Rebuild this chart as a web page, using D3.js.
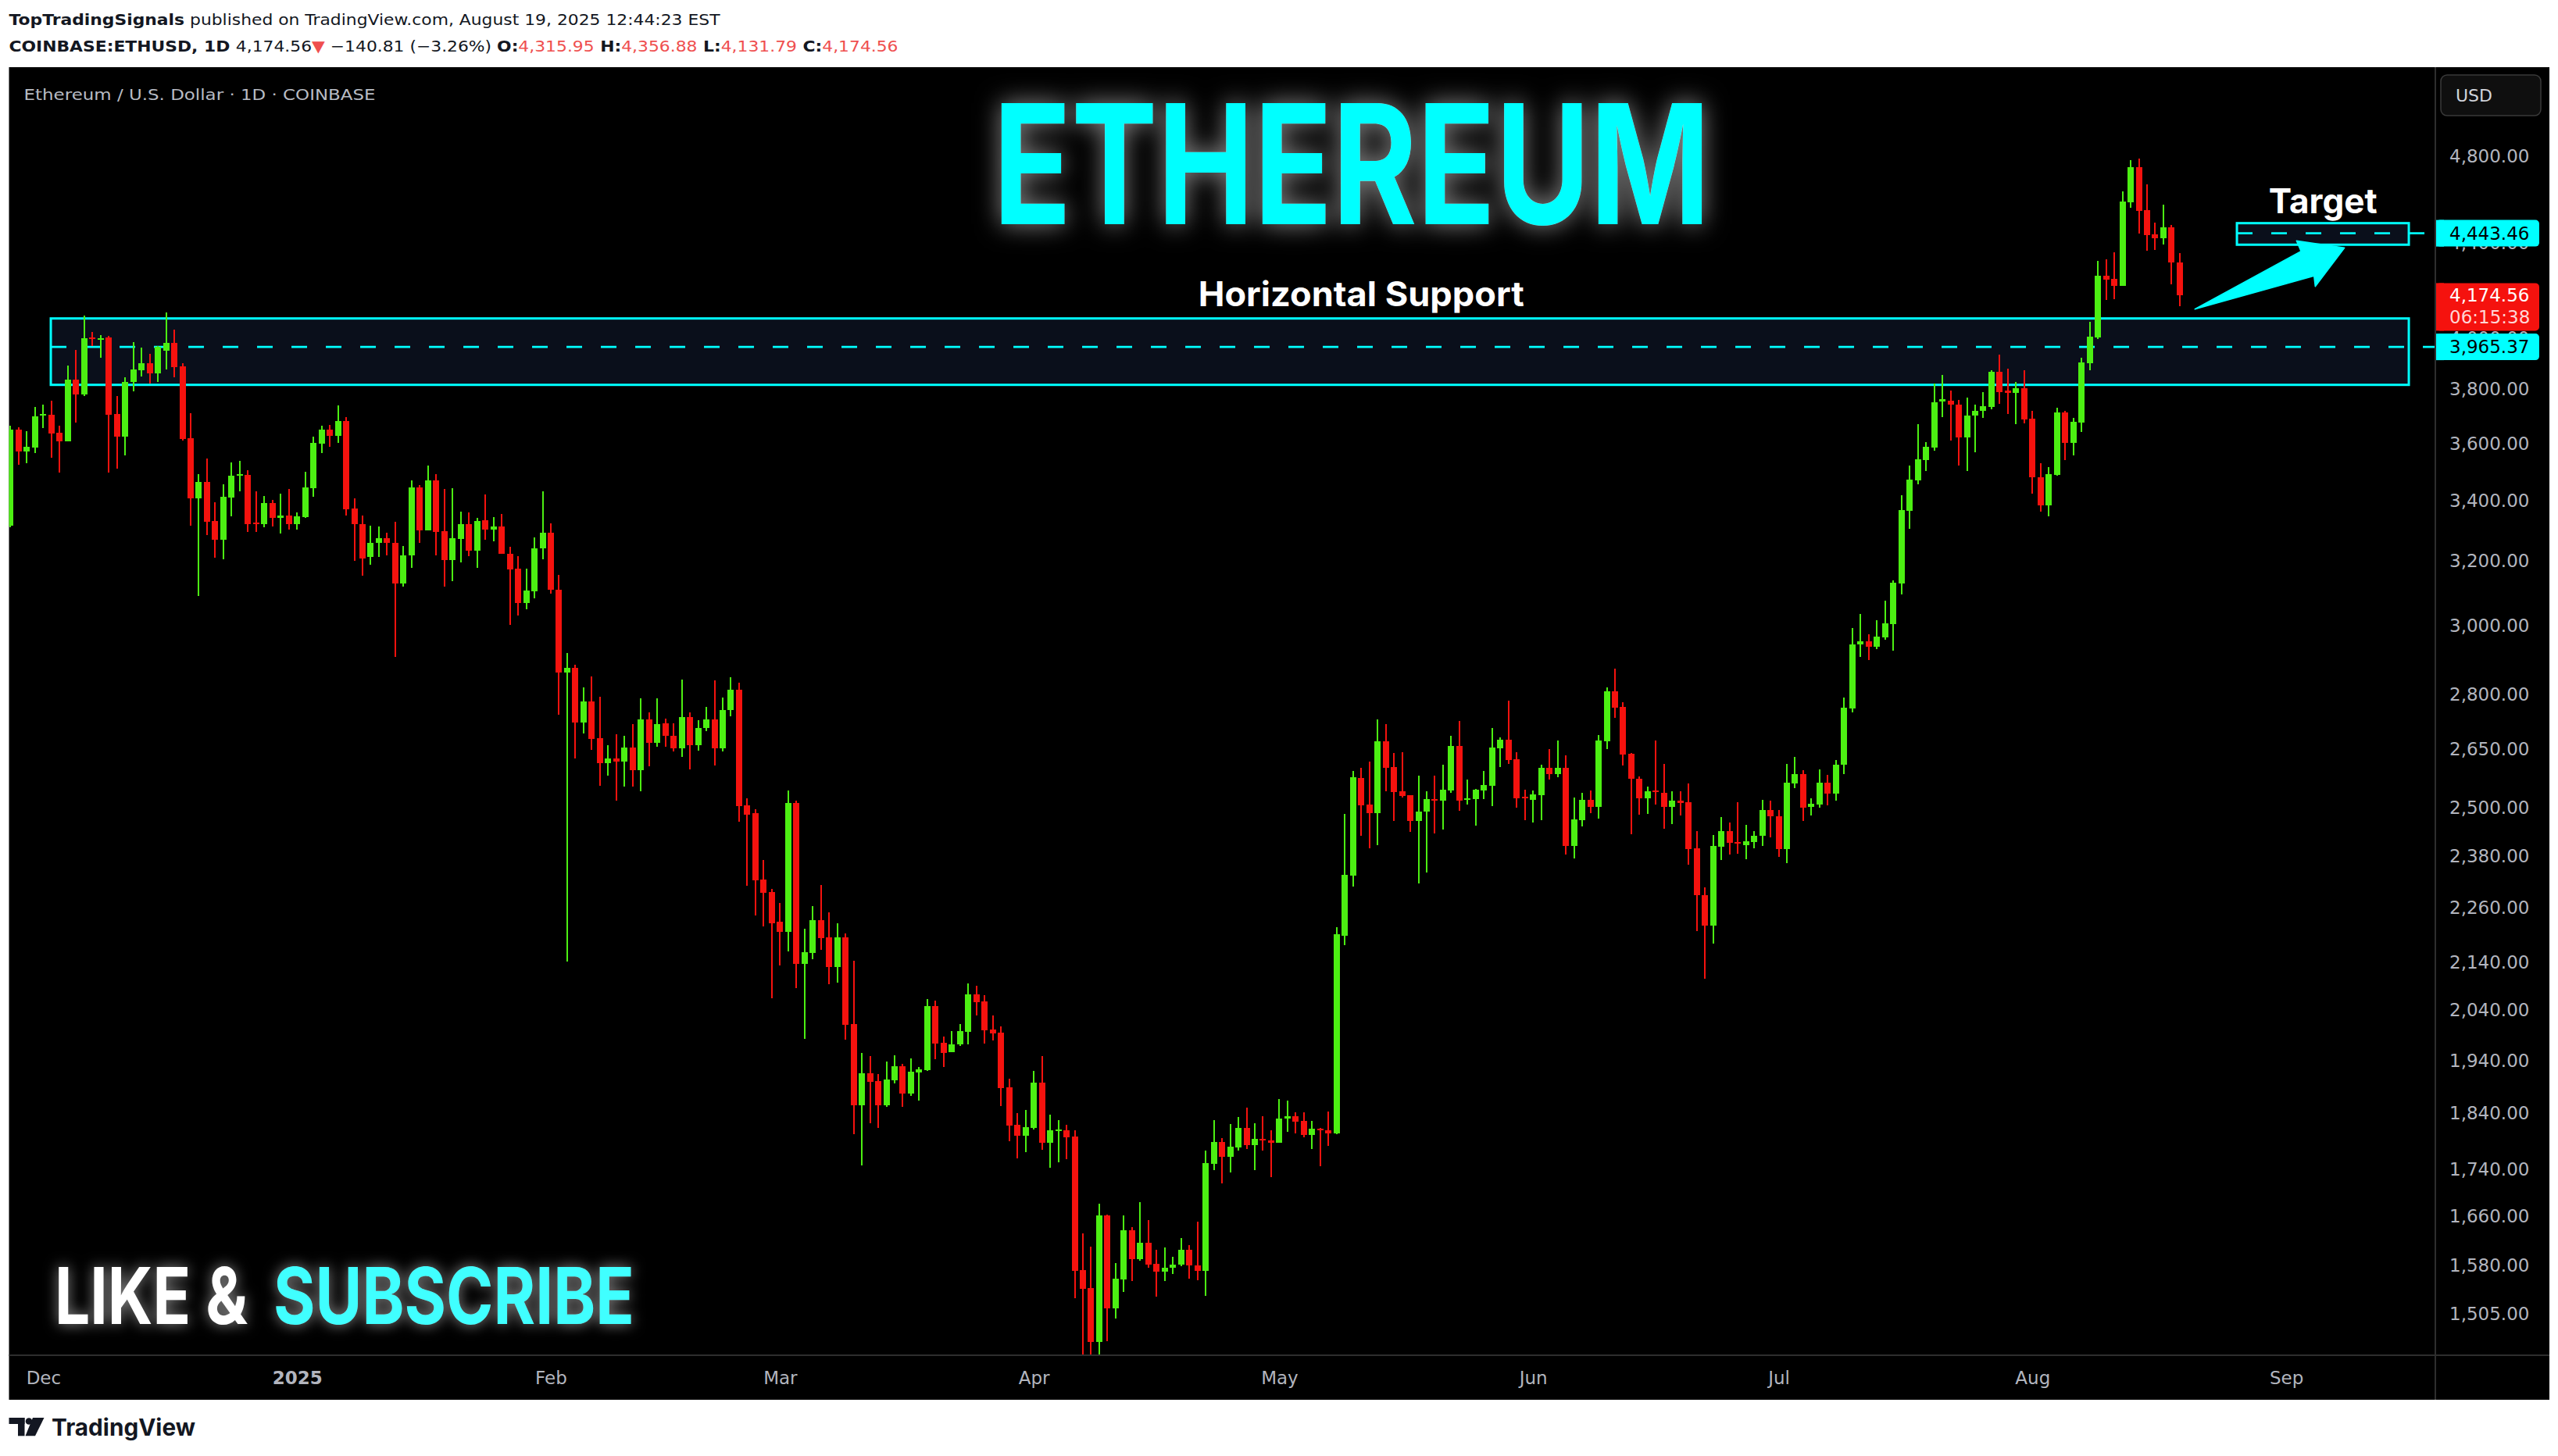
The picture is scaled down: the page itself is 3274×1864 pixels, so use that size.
<!DOCTYPE html>
<html><head><meta charset="utf-8">
<script src="https://cdn.jsdelivr.net/npm/d3@7"></script>
<style>html,body{margin:0;padding:0;background:#fff}svg{display:block}</style>
</head><body>
<svg id="c" width="3274" height="1864"></svg>
<script>
// ---------------- DATA ----------------
const startDate = "2024-11-27";   // first daily bar, COINBASE:ETHUSD 1D
const opens = [3316,3650,3572,3586,3703,3705,3639,3608,3838,3782,4003,3993,4003,3708,3623,3827,3875,3901,3863,3951,3981,3889,3619,3406,3464,3331,3270,3411,3486,3488,3326,3319,3391,3342,3349,3321,3345,3443,3600,3650,3628,3682,3373,3321,3212,3258,3275,3259,3128,3217,3445,3299,3469,3298,3203,3272,3321,3233,3333,3301,3312,3223,3176,3067,3105,3240,3292,3110,2861,2875,2722,2780,2680,2613,2626,2617,2655,2594,2730,2668,2720,2685,2653,2737,2661,2707,2730,2653,2756,2813,2505,2486,2326,2297,2229,2207,2511,2137,2161,2233,2195,2131,2195,2013,1855,1915,1901,1855,1902,1929,1877,1917,1922,2049,1975,1956,1972,1996,2073,2059,2001,1995,1889,1819,1799,1813,1898,1786,1808,1809,1798,1573,1545,1464,1661,1513,1558,1637,1590,1616,1582,1570,1576,1581,1605,1580,1571,1749,1788,1762,1778,1814,1783,1794,1791,1786,1831,1835,1826,1800,1812,1809,1804,2198,2335,2575,2507,2486,2671,2603,2541,2531,2466,2490,2521,2516,2543,2659,2518,2521,2543,2555,2653,2675,2624,2527,2519,2531,2601,2585,2601,2405,2469,2519,2502,2672,2808,2765,2637,2573,2523,2543,2537,2502,2517,2513,2400,2290,2220,2404,2441,2415,2408,2415,2429,2494,2478,2397,2561,2585,2501,2507,2563,2534,2609,2761,2943,2953,2936,2964,3005,3129,3365,3468,3540,3585,3754,3757,3743,3621,3701,3718,3733,3868,3796,3788,3805,3691,3480,3383,3487,3713,3602,3676,3901,4004,4259,4245,4216,4584,4747,4548,4438,4420,4471,4315.95];
const highs = [3665,3658,3644,3734,3743,3757,3664,3892,3953,4092,4025,4013,4010,3775,3847,3984,3963,3938,3969,4105,4035,3901,3711,3491,3546,3394,3456,3532,3538,3505,3431,3415,3402,3423,3439,3360,3499,3625,3664,3667,3740,3696,3407,3349,3315,3312,3292,3328,3248,3469,3453,3522,3491,3439,3442,3363,3359,3342,3420,3344,3354,3246,3216,3176,3277,3432,3323,3156,2918,2884,2819,2850,2793,2661,2690,2686,2718,2789,2750,2788,2733,2720,2842,2750,2728,2765,2839,2790,2848,2832,2523,2495,2372,2304,2271,2542,2517,2214,2265,2313,2250,2226,2203,2144,1955,1949,1914,1938,1950,1933,1944,1928,2064,2060,1987,1998,2013,2096,2091,2071,2029,2008,1905,1841,1846,1920,1949,1838,1828,1819,1809,1632,1610,1681,1663,1584,1661,1642,1684,1653,1605,1609,1594,1624,1612,1651,1772,1828,1795,1821,1834,1851,1822,1835,1809,1867,1864,1842,1842,1826,1814,1844,2217,2484,2593,2601,2617,2730,2718,2640,2642,2531,2581,2541,2581,2609,2686,2726,2571,2547,2593,2707,2682,2782,2642,2545,2543,2609,2650,2673,2634,2525,2537,2543,2688,2819,2873,2778,2640,2578,2553,2673,2611,2541,2541,2561,2441,2308,2432,2476,2463,2513,2456,2441,2519,2517,2494,2611,2630,2595,2523,2597,2583,2622,2790,2993,3035,2974,3016,3075,3139,3418,3521,3671,3605,3821,3855,3796,3760,3769,3743,3790,3875,3935,3880,3829,3873,3720,3529,3516,3732,3718,3693,3923,4066,4323,4329,4360,4634,4781,4788,4668,4491,4573,4481,4356.88];
const lows = [3310,3524,3530,3564,3656,3550,3497,3608,3677,3776,3970,3921,3495,3511,3558,3794,3848,3821,3827,3878,3845,3611,3316,3089,3285,3211,3206,3347,3432,3295,3295,3311,3313,3288,3303,3303,3342,3413,3566,3589,3603,3350,3201,3152,3189,3212,3217,2907,3118,3179,3258,3299,3219,3120,3135,3195,3215,3177,3270,3263,3222,3002,3031,3048,3083,3206,3096,2744,2143,2626,2692,2649,2555,2581,2516,2553,2553,2541,2606,2657,2657,2645,2630,2598,2647,2699,2608,2645,2738,2465,2311,2244,2219,2065,2134,2164,2086,1982,2147,2168,2094,2098,1981,1802,1747,1822,1813,1852,1896,1852,1872,1864,1920,1942,1928,1956,1969,1971,2029,1973,1980,1854,1790,1759,1770,1811,1774,1743,1752,1757,1529,1412,1420,1385,1465,1498,1538,1555,1588,1576,1531,1555,1567,1579,1559,1557,1532,1739,1716,1734,1773,1776,1738,1773,1726,1786,1807,1803,1796,1775,1745,1781,1802,2177,2310,2429,2400,2408,2541,2466,2524,2440,2316,2343,2436,2446,2537,2492,2508,2455,2520,2504,2604,2612,2500,2469,2463,2469,2570,2577,2385,2376,2452,2486,2473,2651,2735,2608,2433,2482,2484,2508,2448,2459,2479,2361,2209,2106,2182,2371,2384,2387,2374,2400,2406,2427,2380,2365,2549,2466,2480,2499,2506,2516,2584,2749,2907,2898,2929,2957,2925,3095,3306,3456,3502,3574,3696,3610,3521,3502,3568,3693,3725,3745,3708,3671,3674,3423,3363,3346,3484,3540,3558,3641,3873,3998,4157,4159,4216,4559,4442,4366,4370,4394,4222,4131.79];
const closes = [3650,3572,3588,3699,3708,3637,3608,3838,3782,4000,3998,3999,3706,3623,3829,3877,3901,3863,3965,3981,3887,3617,3406,3464,3329,3270,3413,3485,3491,3321,3321,3391,3342,3349,3321,3346,3445,3602,3650,3628,3682,3371,3319,3209,3259,3275,3258,3128,3218,3445,3299,3469,3295,3202,3275,3321,3233,3331,3301,3312,3224,3173,3067,3107,3241,3292,3108,2861,2875,2722,2780,2678,2613,2626,2617,2655,2594,2730,2668,2718,2685,2653,2737,2661,2707,2730,2653,2756,2813,2504,2482,2324,2295,2226,2207,2511,2137,2163,2233,2193,2131,2195,2011,1855,1915,1899,1855,1904,1929,1877,1919,1923,2049,1973,1955,1972,1998,2073,2057,2000,1994,1887,1817,1799,1815,1898,1786,1809,1811,1797,1572,1544,1464,1661,1513,1559,1637,1590,1616,1581,1570,1576,1581,1605,1580,1571,1750,1788,1762,1779,1814,1783,1793,1791,1786,1831,1835,1825,1800,1812,1809,1804,2201,2337,2577,2505,2486,2671,2601,2539,2529,2466,2490,2521,2516,2545,2659,2517,2523,2545,2557,2655,2675,2622,2523,2523,2533,2601,2585,2601,2405,2470,2519,2502,2673,2808,2763,2635,2572,2523,2541,2539,2502,2517,2512,2398,2289,2220,2405,2441,2412,2412,2417,2430,2494,2477,2397,2563,2585,2500,2509,2563,2534,2609,2763,2944,2952,2936,2967,3006,3132,3368,3472,3543,3589,3752,3762,3742,3621,3701,3720,3737,3868,3790,3788,3805,3688,3480,3383,3491,3713,3602,3679,3905,4007,4259,4243,4216,4588,4747,4544,4436,4420,4471,4316,4174.56];

const priceTicks = [4800,4400,4000,3800,3600,3400,3200,3000,2800,2650,2500,2380,2260,2140,2040,1940,1840,1740,1660,1580,1505];
const monthTickDates = ["2024-12-01","2025-01-01","2025-02-01","2025-03-01","2025-04-01","2025-05-01","2025-06-01","2025-07-01","2025-08-01","2025-09-01"];
const monthTickLabels = ["Dec","2025","Feb","Mar","Apr","May","Jun","Jul","Aug","Sep"];

// drawings, in (bar index from startDate, price)
const supportZone = {from:4.92, to:292.98, low:3817.4, high:4080, level:3965.37};
const targetZone  = {from:271.98, to:292.98, low:4392.8, high:4488.7, level:4443.46};
const arrowPoints = [[266.85,4118.5],[279.81,4364.0],[279.26,4410.0],[285.12,4379.1],[281.55,4213.0],[281.40,4257.4]];
const notes = [{text:"Horizontal Support", at:165.0, price:4131.4, len:417},{text:"Target", at:282.5, price:4533.5, len:139}];
const axisLabels = [{v:4443.46, bg:"#00FFFF", fg:"#000000"},{v:4174.56, bg:"#F5120E", fg:"#FFFFFF", sub:"06:15:38"},{v:3965.37, bg:"#00FFFF", fg:"#000000"}];

// ---------------- LAYOUT ----------------
const panel = {x0:11.5, y0:86, x1:3263, y1:1792};
const plot  = {x0:11.5, y0:86, x1:3117, y1:1735};
const GREEN = "#4CEF12", RED = "#F5120E", CYAN = "#00FFFF";
const DAY = 86400000;
const t0 = new Date(startDate + "T00:00:00Z");
const dates = d3.utcDay.range(t0, d3.utcDay.offset(t0, opens.length));
const atIdx = k => new Date(t0.getTime() + k*DAY);

const x = d3.scaleUtc()
  .domain([new Date("2024-11-26T19:26:00Z"), new Date("2025-09-19T05:17:00Z")])
  .range([plot.x0, plot.x1]);
const y = d3.scaleLog().domain([1444.1, 5247.8]).range([plot.y1, plot.y0]);

const svg = d3.select("#c");
const defs = svg.append("defs");
defs.append("clipPath").attr("id","plotClip").append("rect")
  .attr("x",plot.x0).attr("y",plot.y0).attr("width",plot.x1-plot.x0).attr("height",plot.y1-plot.y0);
function glow(id, sd, op){
  const f = defs.append("filter").attr("id",id).attr("x","-20%").attr("y","-60%").attr("width","140%").attr("height","220%");
  f.append("feGaussianBlur").attr("in","SourceAlpha").attr("stdDeviation",sd).attr("result","b");
  f.append("feFlood").attr("flood-color","#ffffff").attr("flood-opacity",op);
  f.append("feComposite").attr("in2","b").attr("operator","in").attr("result","g");
  const m = f.append("feMerge"); m.append("feMergeNode").attr("in","g"); m.append("feMergeNode").attr("in","SourceGraphic");
}
glow("glowBig", 16, 0.55);
glow("glowSmall", 9, 0.55);

// page background
svg.append("rect").attr("width",3274).attr("height",1864).attr("fill","#ffffff");

// header
const hdrFont = "'DejaVu Sans', sans-serif";
const h1 = svg.append("text").attr("x",11.5).attr("y",32).attr("font-family",hdrFont).attr("font-size",20).attr("fill","#131722")
  .attr("textLength",910).attr("lengthAdjust","spacingAndGlyphs");
h1.append("tspan").attr("font-weight","bold").text("TopTradingSignals");
h1.append("tspan").text(" published on TradingView.com, August 19, 2025 12:44:23 EST");
const h2 = svg.append("text").attr("x",11.5).attr("y",66).attr("font-family",hdrFont).attr("font-size",20).attr("fill","#131722")
  .attr("textLength",1138).attr("lengthAdjust","spacingAndGlyphs");
const HRED = "#EF4F4F";
[["COINBASE:ETHUSD, 1D ","bold","#131722"],["4,174.56","normal","#131722"],["▼","normal",HRED],[" −140.81 (−3.26%) ","normal","#131722"],
 ["O:","bold","#131722"],["4,315.95","normal",HRED],[" H:","bold","#131722"],["4,356.88","normal",HRED],
 [" L:","bold","#131722"],["4,131.79","normal",HRED],[" C:","bold","#131722"],["4,174.56","normal",HRED]]
 .forEach(([t,w,c])=>h2.append("tspan").attr("font-weight",w).attr("fill",c).text(t));

// chart panel
svg.append("rect").attr("x",panel.x0).attr("y",panel.y0).attr("width",panel.x1-panel.x0).attr("height",panel.y1-panel.y0).attr("fill","#000000");

svg.append("text").attr("x",30.6).attr("y",127.5).attr("font-family",hdrFont).attr("font-size",20).attr("fill","#B8BCC4")
  .attr("textLength",450).attr("lengthAdjust","spacingAndGlyphs").text("Ethereum / U.S. Dollar · 1D · COINBASE");

// drawings under candles
const dz = svg.append("g").attr("clip-path","url(#plotClip)");
[supportZone, targetZone].forEach(z=>{
  dz.append("rect").attr("x",x(atIdx(z.from))).attr("y",y(z.high))
    .attr("width",x(atIdx(z.to))-x(atIdx(z.from))).attr("height",y(z.low)-y(z.high))
    .attr("fill","#0A0F1B").attr("stroke",CYAN).attr("stroke-width",3);
  dz.append("line").attr("x1",x(atIdx(z.from))).attr("x2",plot.x1).attr("y1",y(z.level)).attr("y2",y(z.level))
    .attr("stroke",CYAN).attr("stroke-width",2.6).attr("stroke-dasharray","20 24");
});

// candles
const bars = dates.map((d,i)=>({d, o:opens[i], h:highs[i], l:lows[i], c:closes[i]}));
const cg = svg.append("g").attr("clip-path","url(#plotClip)").attr("shape-rendering","crispEdges");
cg.selectAll("rect.w").data(bars).join("rect").attr("class","w")
  .attr("x",d=>Math.round(x(d.d))-1).attr("width",2)
  .attr("y",d=>y(d.h)).attr("height",d=>Math.max(1,y(d.l)-y(d.h)))
  .attr("fill",d=>d.c>=d.o?GREEN:RED);
cg.selectAll("rect.b").data(bars).join("rect").attr("class","b")
  .attr("x",d=>Math.round(x(d.d))-4).attr("width",8)
  .attr("y",d=>y(Math.max(d.o,d.c))).attr("height",d=>Math.max(2,y(Math.min(d.o,d.c))-y(Math.max(d.o,d.c))))
  .attr("fill",d=>d.c>=d.o?GREEN:RED);

// arrow
svg.append("polygon").attr("points",arrowPoints.map(p=>[x(atIdx(p[0])),y(p[1])].join(",")).join(" "))
  .attr("fill",CYAN).attr("stroke",CYAN).attr("stroke-width",1.5).attr("stroke-linejoin","round");

// notes
notes.forEach(n=>{
  svg.append("text").attr("x",x(atIdx(n.at))).attr("y",y(n.price)).attr("text-anchor","middle")
    .attr("font-family","Inter, 'Liberation Sans', sans-serif").attr("font-weight",700).attr("font-size",44)
    .attr("fill","#FFFFFF").attr("textLength",n.len).attr("lengthAdjust","spacingAndGlyphs").text(n.text);
});

// overlay titles
svg.append("text").attr("x",1730).attr("y",286.7).attr("text-anchor","middle")
  .attr("font-family","Inter, sans-serif").attr("font-weight",700).attr("font-size",213)
  .attr("fill",CYAN).attr("textLength",918).attr("lengthAdjust","spacingAndGlyphs")
  .attr("filter","url(#glowBig)").text("ETHEREUM");
const ls = svg.append("g").attr("filter","url(#glowSmall)");
ls.append("text").attr("x",70).attr("y",1695).attr("font-family","Inter, sans-serif").attr("font-weight",700).attr("font-size",100)
  .attr("fill","#FFFFFF").attr("textLength",247).attr("lengthAdjust","spacingAndGlyphs").text("LIKE &");
ls.append("text").attr("x",350).attr("y",1695).attr("font-family","Inter, sans-serif").attr("font-weight",700).attr("font-size",100)
  .attr("fill","#40FFFF").attr("textLength",462).attr("lengthAdjust","spacingAndGlyphs").text("SUBSCRIBE");

// axis separator lines
svg.append("line").attr("x1",panel.x0).attr("x2",panel.x1).attr("y1",plot.y1).attr("y2",plot.y1).attr("stroke","#2E2E2E").attr("stroke-width",2);
svg.append("line").attr("x1",plot.x1).attr("x2",plot.x1).attr("y1",panel.y0).attr("y2",panel.y1).attr("stroke","#2E2E2E").attr("stroke-width",2);

// price axis
const axFont = "'DejaVu Sans', sans-serif";
const yg = svg.append("g").attr("transform",`translate(${plot.x1},0)`)
  .call(d3.axisRight(y).tickValues(priceTicks).tickFormat(d3.format(",.2f")).tickSize(0).tickPadding(18));
yg.select(".domain").remove();
yg.selectAll("text").attr("font-family",axFont).attr("font-size",23).attr("fill","#B2B5BE");

// time axis
const tickDates = monthTickDates.map(s=>new Date(s+"T00:00:00Z"));
const xg = svg.append("g").attr("transform",`translate(0,${plot.y1})`)
  .call(d3.axisBottom(x).tickValues(tickDates).tickFormat((d,i)=>monthTickLabels[i]).tickSize(0).tickPadding(21));
xg.select(".domain").remove();
xg.selectAll("text").attr("font-family",axFont).attr("font-size",23).attr("fill","#B2B5BE")
  .attr("font-weight",(d,i)=>monthTickLabels[i]==="2025"?"bold":"normal");

// price labels on axis
axisLabels.forEach(a=>{
  const cy = y(a.v);
  const top = a.sub ? cy-16 : cy-17, h = a.sub ? 61 : 34;
  const g = svg.append("g");
  g.append("rect").attr("x",plot.x1+1).attr("y",top).attr("width",132).attr("height",h).attr("rx",5).attr("fill",a.bg);
  g.append("rect").attr("x",plot.x1+1).attr("y",top).attr("width",10).attr("height",h).attr("fill",a.bg);
  g.append("text").attr("x",3135).attr("y",cy+8).attr("font-family",axFont).attr("font-size",23).attr("fill",a.fg).text(d3.format(",.2f")(a.v));
  if(a.sub) g.append("text").attr("x",3135).attr("y",cy+36).attr("font-family",axFont).attr("font-size",23).attr("fill","#FFD6D6").text(a.sub);
});

// USD button
svg.append("rect").attr("x",3124).attr("y",96).attr("width",128).attr("height",52).attr("rx",8)
  .attr("fill","#0F0F0F").attr("stroke","#3A3A3A").attr("stroke-width",1.5);
svg.append("text").attr("x",3143).attr("y",130).attr("font-family",axFont).attr("font-size",22).attr("fill","#D1D4DC").text("USD");

// footer TradingView logo
const lg = svg.append("g").attr("fill","#131722");
lg.append("rect").attr("x",11.5).attr("y",1815).attr("width",20).attr("height",8);
lg.append("rect").attr("x",23).attr("y",1815).attr("width",8.5).attr("height",23.3);
lg.append("circle").attr("cx",37).attr("cy",1819.5).attr("r",4.3);
lg.append("polygon").attr("points","42,1815 56.5,1815 45,1838.3 32.5,1838.3");
svg.append("text").attr("x",66).attr("y",1838).attr("font-family","Inter, sans-serif").attr("font-weight",700).attr("font-size",30)
  .attr("fill","#131722").attr("textLength",184).attr("lengthAdjust","spacingAndGlyphs").text("TradingView");
</script>
</body></html>
